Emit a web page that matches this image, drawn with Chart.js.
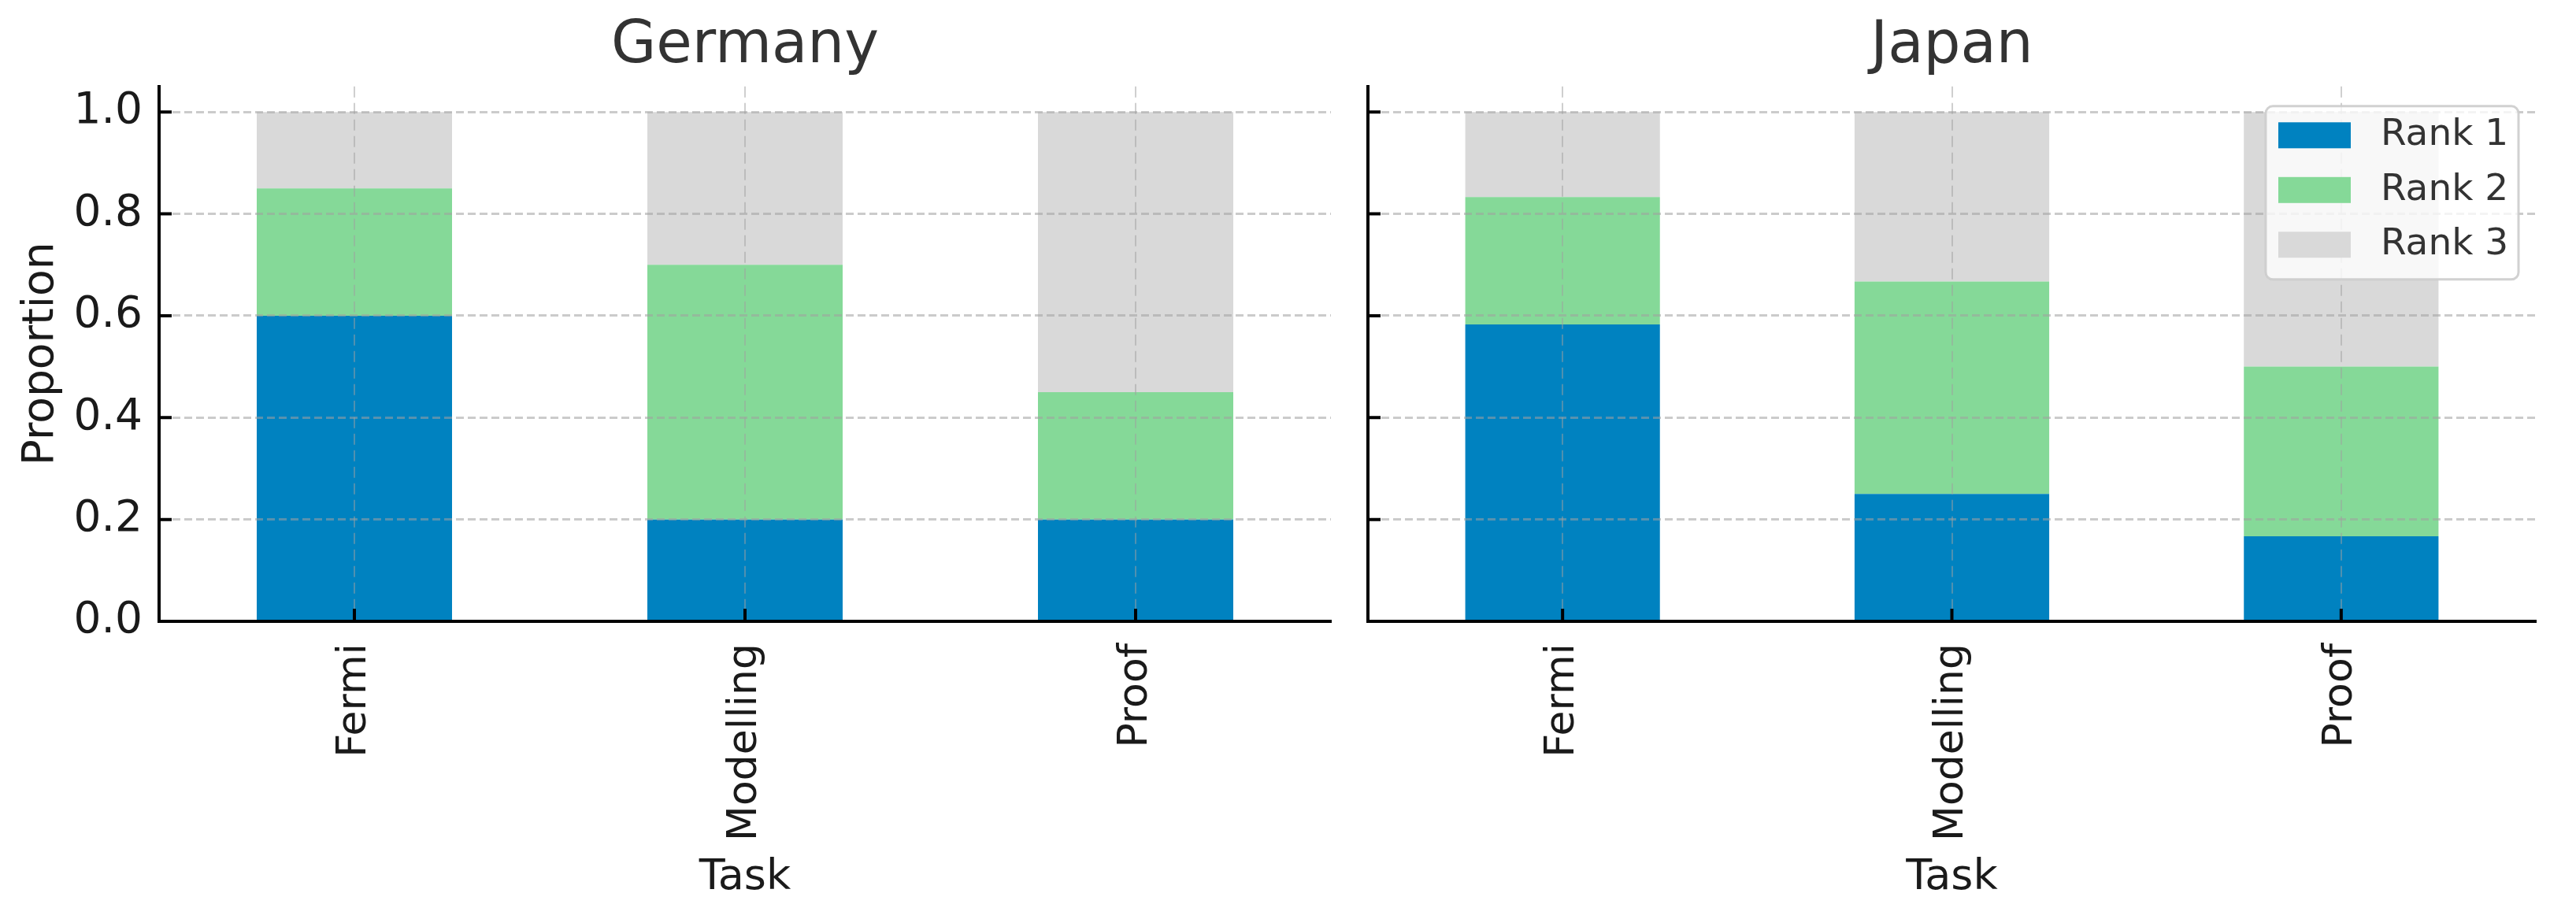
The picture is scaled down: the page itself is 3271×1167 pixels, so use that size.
<!DOCTYPE html>
<html>
<head>
<meta charset="utf-8">
<script src="https://cdn.jsdelivr.net/npm/chart.js@4/dist/chart.umd.min.js"></script>
<style>
  html, body { margin: 0; padding: 0; background: #fff; }
  #wrap { position: relative; width: 3271px; height: 1167px; }
  canvas { position: absolute; top: 0; }
</style>
</head>
<body>
<div id="wrap">
  <canvas id="germany" width="1714" height="1167" style="left:0"></canvas>
  <canvas id="japan" width="1557" height="1167" style="left:1714px"></canvas>
</div>
<script>
const tasks = ['Fermi', 'Modelling', 'Proof'];
const rankLabels = ['Rank 1', 'Rank 2', 'Rank 3'];
const rankColors = ['#0082c0', '#85d998', '#d9d9d9'];
const yTicks = [0, 0.2, 0.4, 0.6, 0.8, 1.0];

// Germany proportions per task
const germanyRank1 = [0.60, 0.20, 0.20];
const germanyRank2 = [0.25, 0.50, 0.25];
const germanyRank3 = [0.15, 0.30, 0.55];

// Japan proportions per task
const japanRank1 = [0.583, 0.25, 0.167];
const japanRank2 = [0.25, 0.417, 0.333];
const japanRank3 = [0.167, 0.333, 0.50];

const family = '"DejaVu Sans", sans-serif';

// matplotlib style ticks pointing into the plot
const inwardTicks = {
    id: 'inwardTicks',
    afterDraw(chart) {
        const { ctx, chartArea, scales } = chart;
        ctx.save();
        ctx.strokeStyle = '#000';
        ctx.lineWidth = 4;
        ctx.beginPath();
        scales.y.ticks.forEach(t => {
            const y = scales.y.getPixelForValue(t.value);
            ctx.moveTo(chartArea.left, y);
            ctx.lineTo(chartArea.left + 16, y);
        });
        scales.x.ticks.forEach((t, i) => {
            const x = scales.x.getPixelForTick(i);
            ctx.moveTo(x, chartArea.bottom);
            ctx.lineTo(x, chartArea.bottom - 16);
        });
        ctx.stroke();
        ctx.restore();
    }
};

// legend box inside the plot, top right
const boxLegend = {
    id: 'boxLegend',
    afterDraw(chart) {
        const { ctx, chartArea } = chart;
        const w = 321, h = 220;
        const x = chartArea.right - 22 - w;
        const y = chartArea.top + 25;
        ctx.save();
        ctx.beginPath();
        ctx.roundRect(x, y, w, h, 9);
        ctx.fillStyle = 'rgba(255,255,255,0.8)';
        ctx.fill();
        ctx.lineWidth = 3;
        ctx.strokeStyle = 'rgba(204,204,204,0.9)';
        ctx.stroke();
        ctx.font = '47px ' + family;
        ctx.textBaseline = 'middle';
        chart.data.datasets.forEach((ds, i) => {
            const cy = y + 37 + i * 69.5;
            ctx.fillStyle = ds.backgroundColor;
            ctx.fillRect(x + 16, cy - 16.5, 92, 33);
            ctx.fillStyle = '#333';
            ctx.fillText(ds.label, x + 146, cy);
        });
        ctx.restore();
    }
};

function makeChart(id, title, r1, r2, r3, showY, withLegend, padRight) {
    const values = [r1, r2, r3];
    const datasets = rankLabels.map((label, i) => ({
        label: label,
        data: values[i],
        backgroundColor: rankColors[i],
        borderWidth: 0,
        barPercentage: 0.5,
        categoryPercentage: 1
    }));

    return new Chart(document.getElementById(id), {
        type: 'bar',
        data: { labels: tasks, datasets: datasets },
        options: {
            responsive: false,
            animation: false,
            layout: { padding: { left: 0, right: padRight, top: 0, bottom: 0 } },
            plugins: {
                legend: { display: false },
                tooltip: { enabled: false },
                title: {
                    display: true,
                    text: title,
                    fullSize: false,
                    color: '#333',
                    font: { family: family, size: 74, weight: 'normal' },
                    padding: { top: 15, bottom: 6 }
                }
            },
            scales: {
                x: {
                    stacked: true,
                    offset: true,
                    grid: {
                        offset: false,
                        drawTicks: false,
                        color: 'rgba(160,160,160,0.5)',
                        lineWidth: 2,
                        z: 1
                    },
                    border: { color: '#000', width: 4, dash: [14, 7], z: 2 },
                    ticks: {
                        autoSkip: false,
                        minRotation: 90,
                        maxRotation: 90,
                        padding: 28,
                        color: '#1a1a1a',
                        font: { family: family, size: 52 }
                    },
                    title: {
                        display: true,
                        text: 'Task',
                        color: '#1a1a1a',
                        font: { family: family, size: 54 },
                        padding: { top: 0, bottom: 20 }
                    },
                    afterFit: s => { s.height = 378; }
                },
                y: {
                    stacked: true,
                    min: 0,
                    max: 1.05,
                    afterBuildTicks: s => { s.ticks = yTicks.map(v => ({ value: v })); },
                    grid: {
                        drawTicks: false,
                        color: 'rgba(160,160,160,0.55)',
                        lineWidth: 3,
                        z: 1
                    },
                    border: { color: '#000', width: 4, dash: [10, 5], z: 2 },
                    ticks: {
                        display: showY,
                        padding: 21,
                        color: '#1a1a1a',
                        font: { family: family, size: 55 },
                        callback: v => Number(v).toFixed(1)
                    },
                    title: {
                        display: showY,
                        text: 'Proportion',
                        color: '#1a1a1a',
                        font: { family: family, size: 55 },
                        padding: { top: 20, bottom: 0 }
                    },
                    afterFit: s => { s.width = showY ? 202 : 23; }
                }
            }
        },
        plugins: withLegend ? [inwardTicks, boxLegend] : [inwardTicks]
    });
}

makeChart('germany', 'Germany', germanyRank1, germanyRank2, germanyRank3, true, false, 24);
makeChart('japan', 'Japan', japanRank1, japanRank2, japanRank3, false, true, 51);
</script>
</body>
</html>
